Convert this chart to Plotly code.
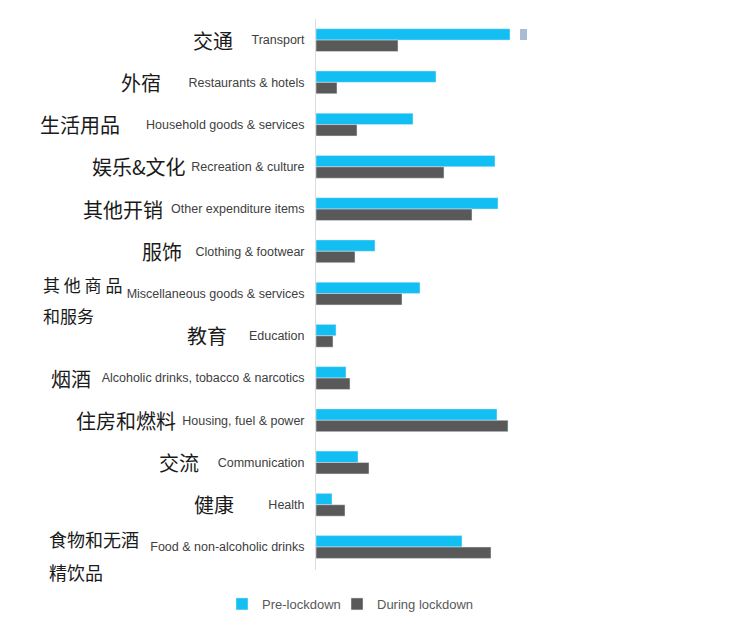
import plotly.graph_objects as go

categories = ["Transport", "Restaurants & hotels", "Household goods & services",
              "Recreation & culture", "Other expenditure items", "Clothing & footwear",
              "Miscellaneous goods & services", "Education",
              "Alcoholic drinks, tobacco & narcotics", "Housing, fuel & power",
              "Communication", "Health", "Food & non-alcoholic drinks"]
zh_labels = ["交通", "外宿", "生活用品", "娱乐&文化", "其他开销", "服饰",
             "其 他 商 品<br>和服务", "教育", "烟酒", "住房和燃料", "交流", "健康",
             "食物和无酒<br>精饮品"]
pre_lockdown = [19.4, 12.0, 9.7, 17.9, 18.2, 5.9, 10.4, 2.0, 3.0, 18.1, 4.2, 1.6, 14.6]
during_lockdown = [8.2, 2.1, 4.1, 12.8, 15.6, 3.9, 8.6, 1.7, 3.4, 19.2, 5.3, 2.9, 17.5]
series_names = ["Pre-lockdown", "During lockdown"]

OFF = 8  # page body margin
W, H = 742, 634
L, T = 316 - OFF, 19 - OFF
PW, PH = 224, 551
R, B = W - L - PW, H - T - PH

def px2paper(px):
    return (px - OFF - L) / PW

def py2paper(py):
    return 1 - (py - OFF - T) / PH

# right edge (page px) of single-line Chinese labels; two-line labels are left aligned
zh_right = [235, 163, 122, 188, 165, 184, None, 229, 93, 178, 201, 236, None]
zh_left = {6: (41, 17, (9, -22)), 12: (47, 18, (8, -25))}

fig = go.Figure()
fig.add_trace(go.Bar(y=categories, x=pre_lockdown, orientation="h", name=series_names[0],
                     marker_color="#12BEF2", legend="legend"))
fig.add_trace(go.Bar(y=categories, x=during_lockdown, orientation="h", name=series_names[1],
                     marker_color="#595959", legend="legend2"))

annotations = []
for i, lab in enumerate(zh_labels):
    if zh_right[i] is not None:
        annotations.append(dict(text=lab, xref="paper", yref="y", x=px2paper(zh_right[i]),
                                y=categories[i], xanchor="right", yanchor="middle",
                                showarrow=False, yshift=0,
                                font=dict(family="Noto Sans CJK SC", size=20, color="#1a1a1a")))
    else:
        xl, fs, shifts = zh_left[i]
        for j, ln in enumerate(lab.split("<br>")):
            annotations.append(dict(text=ln, xref="paper", yref="y", x=px2paper(xl),
                                    y=categories[i], xanchor="left", yanchor="middle",
                                    showarrow=False, yshift=shifts[j],
                                    font=dict(family="Noto Sans CJK SC", size=fs, color="#1a1a1a")))

fig.update_layout(
    width=W, height=H,
    margin=dict(l=L, r=R, t=T, b=B),
    paper_bgcolor="white", plot_bgcolor="white",
    barmode="group", bargap=0.46, bargroupgap=0,
    font=dict(family="Arial, Liberation Sans, sans-serif", color="#404040"),
    xaxis=dict(visible=False, range=[0, PW / 10], fixedrange=True),
    yaxis=dict(autorange="reversed", showline=True, linecolor="#dcdcdc", linewidth=1,
               ticks="", showgrid=False, zeroline=False, ticklabelstandoff=8,
               tickfont=dict(family="Arial, Liberation Sans, sans-serif", size=12.5, color="#404040")),
    legend=dict(orientation="h", x=px2paper(222), xanchor="left", y=py2paper(604), yanchor="middle",
                font=dict(size=13, color="#595959"), itemwidth=30, bgcolor="rgba(0,0,0,0)"),
    legend2=dict(orientation="h", x=px2paper(337), xanchor="left", y=py2paper(604), yanchor="middle",
                 font=dict(size=13, color="#595959"), itemwidth=30, bgcolor="rgba(0,0,0,0)"),
    annotations=annotations,
    shapes=[dict(type="rect", xref="paper", yref="paper",
                 x0=px2paper(520), x1=px2paper(527), y0=py2paper(40), y1=py2paper(29),
                 fillcolor="#A9BCD6", line_width=0)],
    showlegend=True,
)

fig.write_html("out.html")
